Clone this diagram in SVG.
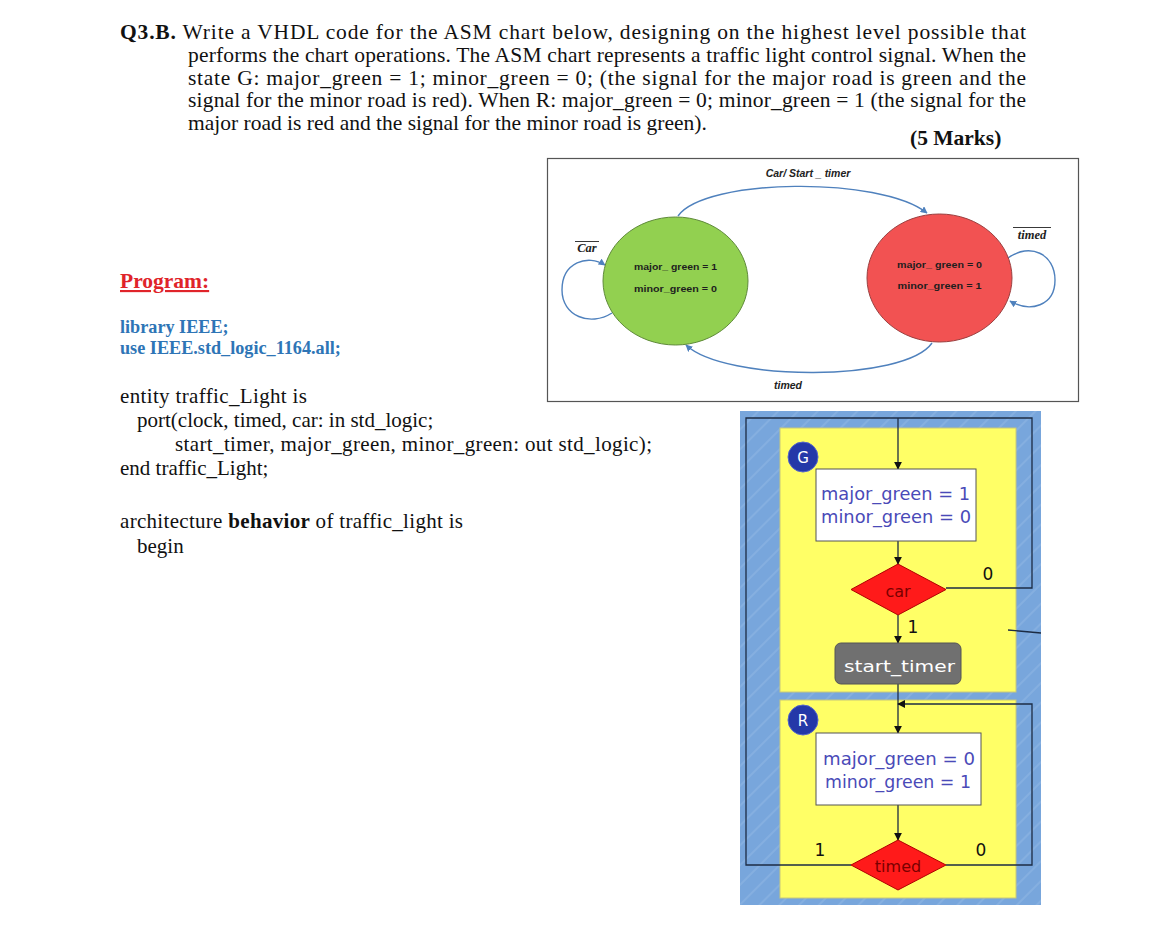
<svg xmlns="http://www.w3.org/2000/svg" width="1170" height="940" viewBox="0 0 1170 940">
<defs>
<style>
.q{font-family:"Liberation Serif",serif;font-size:21.5px;fill:#111}
.code{font-family:"Liberation Serif",serif;font-size:21px;fill:#111}
.lib{font-family:"Liberation Serif",serif;font-size:18.2px;font-weight:bold;fill:#2e75b6}
.st{font-family:"Liberation Sans",Arial,sans-serif;font-size:9.5px;font-weight:bold;fill:#1e1e1e}
.lbl{font-family:"Liberation Sans",Arial,sans-serif;font-size:10.5px;font-weight:bold;font-style:italic;fill:#222}
.mth{font-family:"Liberation Serif",serif;font-size:12.5px;font-weight:bold;font-style:italic;fill:#222}
.asm{font-family:"DejaVu Sans",sans-serif;font-size:18px;fill:#4a4ab8}
.num{font-family:"DejaVu Sans",sans-serif;font-size:17px;fill:#111}
.dtx{font-family:"DejaVu Sans",sans-serif;font-size:16px;fill:#7a0000}
.cl{font-family:"DejaVu Sans",sans-serif;font-size:15px;fill:#fff}
.blue{fill:none;stroke:#4f81bd;stroke-width:1.4}
.wire{fill:none;stroke:#1c2c44;stroke-width:1.3}
</style>
<marker id="ab" viewBox="0 0 10 10" refX="9" refY="5" markerWidth="7" markerHeight="7" orient="auto" markerUnits="userSpaceOnUse"><path d="M0,0 L10,5 L0,10 z" fill="#4f81bd"/></marker>
<marker id="ak" viewBox="0 0 10 10" refX="9" refY="5" markerWidth="8" markerHeight="8" orient="auto" markerUnits="userSpaceOnUse"><path d="M0,0 L10,5 L0,10 z" fill="#111"/></marker>
<pattern id="stripes" width="14" height="14" patternUnits="userSpaceOnUse" patternTransform="rotate(-45)"><rect width="14" height="14" fill="#78a6dc"/><rect width="14" height="2" fill="#85afe0"/></pattern>
</defs>
<rect width="1170" height="940" fill="#ffffff"/>

<!-- Question text -->
<g id="question">
<text class="q" x="120" y="39" textLength="906" lengthAdjust="spacing"><tspan font-weight="bold">Q3.B.</tspan> Write a VHDL code for the ASM chart below, designing on the highest level possible that</text>
<text class="q" x="188" y="62" textLength="838" lengthAdjust="spacing">performs the chart operations. The ASM chart represents a traffic light control signal. When the</text>
<text class="q" x="188" y="85" textLength="838" lengthAdjust="spacing">state G: major_green = 1; minor_green = 0; (the signal for the major road is green and the</text>
<text class="q" x="188" y="107" textLength="838" lengthAdjust="spacing">signal for the minor road is red). When R: major_green = 0; minor_green = 1 (the signal for the</text>
<text class="q" x="188" y="130">major road is red and the signal for the minor road is green).</text>
<text class="q" x="910" y="145" font-weight="bold">(5 Marks)</text>
</g>

<!-- Program text -->
<g id="program">
<text x="120" y="288" font-family="Liberation Serif, serif" font-size="21.5" font-weight="bold" fill="#e0242a" text-decoration="underline">Program:</text>
<text class="lib" x="120" y="333">library IEEE;</text>
<text class="lib" x="120" y="354">use IEEE.std_logic_1164.all;</text>
<text class="code" x="120" y="403" textLength="187" lengthAdjust="spacing">entity traffic_Light is</text>
<text class="code" x="137" y="427">port(clock, timed, car: in std_logic;</text>
<text class="code" x="175" y="451" textLength="477" lengthAdjust="spacing">start_timer, major_green, minor_green: out std_logic);</text>
<text class="code" x="120" y="475">end traffic_Light;</text>
<text class="code" x="120" y="528" textLength="343" lengthAdjust="spacing">architecture <tspan font-weight="bold">behavior</tspan> of traffic_light is</text>
<text class="code" x="137" y="553">begin</text>
</g>

<!-- State diagram -->
<g id="state-frame">
<rect x="547.5" y="158.5" width="531" height="243" fill="#fff" stroke="#555" stroke-width="1.2"/>
</g>
<g id="state-connectors">
<path class="blue" d="M678 216 C705 178, 880 176, 927 213" marker-end="url(#ab)"/>
<path class="blue" d="M932 343 C905 382, 725 382, 686 345" marker-end="url(#ab)"/>
<path class="blue" d="M612 313 C590 327, 562 316, 562 290 C562 262, 588 254, 605 265" marker-end="url(#ab)"/>
<path class="blue" d="M1008 258 C1030 242, 1055 254, 1055 280 C1055 306, 1030 313, 1010 301" marker-end="url(#ab)"/>
<text class="lbl" x="808" y="177" text-anchor="middle">Car/ Start _ timer</text>
<text class="lbl" x="788" y="389" text-anchor="middle">timed</text>
<text class="mth" x="587" y="252" text-anchor="middle">Car</text>
<line x1="575" y1="241.5" x2="599" y2="241.5" stroke="#222" stroke-width="0.9"/>
<text class="mth" x="1032" y="239" text-anchor="middle">timed</text>
<line x1="1013" y1="227.5" x2="1051" y2="227.5" stroke="#222" stroke-width="0.9"/>
</g>
<g id="state-G">
<ellipse cx="675.5" cy="281" rx="72.5" ry="64" fill="#92d050" stroke="#5f8a3a" stroke-width="1"/>
<text class="st" x="675.5" y="270" text-anchor="middle" textLength="83" lengthAdjust="spacingAndGlyphs">major_ green = 1</text>
<text class="st" x="675.5" y="292" text-anchor="middle" textLength="83" lengthAdjust="spacingAndGlyphs">minor_green = 0</text>
</g>
<g id="state-R">
<ellipse cx="939.5" cy="278" rx="72.5" ry="64" fill="#f25252" stroke="#9a4040" stroke-width="1"/>
<text class="st" x="939.5" y="268" text-anchor="middle" textLength="85" lengthAdjust="spacingAndGlyphs">major_ green = 0</text>
<text class="st" x="939.5" y="289" text-anchor="middle" textLength="84" lengthAdjust="spacingAndGlyphs">minor_green = 1</text>
</g>

<!-- ASM chart -->
<g id="asm-background">
<rect x="740" y="411" width="301" height="494" fill="url(#stripes)"/>
<rect x="780" y="428" width="236" height="264" fill="#ffff66" stroke="#c8c87a" stroke-width="1"/>
<rect x="780" y="700" width="236" height="198" fill="#ffff66" stroke="#c8c87a" stroke-width="1"/>
</g>
<g id="asm-connectors">
<path class="wire" d="M946 588 H1032 V418 H898"/>
<path class="wire" d="M851 865 H746 V418 H898"/>
<path class="wire" d="M898 418 V469" marker-end="url(#ak)"/>
<path class="wire" d="M898 541 V564" marker-end="url(#ak)"/>
<path class="wire" d="M898 615 V643" marker-end="url(#ak)"/>
<path class="wire" d="M898 684 V733" marker-end="url(#ak)"/>
<path class="wire" d="M946 865 H1032 V704 H898" marker-end="url(#ak)"/>
<path class="wire" d="M898 805 V840" marker-end="url(#ak)"/>
<path class="wire" d="M1008 630 L1041 633"/>
<text class="num" x="988" y="580" text-anchor="middle">0</text>
<text class="num" x="913" y="633" text-anchor="middle">1</text>
<text class="num" x="820" y="856" text-anchor="middle">1</text>
<text class="num" x="981" y="856" text-anchor="middle">0</text>
</g>
<g id="asm-G-label">
<circle cx="803" cy="457" r="15" fill="#2438a8" stroke="#5566cc" stroke-width="1"/>
<text class="cl" x="803" y="463" text-anchor="middle">G</text>
</g>
<g id="asm-G-box">
<rect x="816" y="469" width="160" height="72" fill="#fff" stroke="#555" stroke-width="1"/>
<text class="asm" x="821" y="500" textLength="149" lengthAdjust="spacingAndGlyphs">major_green = 1</text>
<text class="asm" x="821" y="523" textLength="150" lengthAdjust="spacingAndGlyphs">minor_green = 0</text>
</g>
<g id="asm-car">
<polygon points="898,564 946,589.5 898,615 851,589.5" fill="#ff1a1a" stroke="#b00000" stroke-width="1"/>
<text class="dtx" x="898" y="597" text-anchor="middle">car</text>
</g>
<g id="asm-start-timer">
<rect x="835" y="643" width="126" height="41" rx="6" fill="#707070" stroke="#555" stroke-width="1"/>
<text class="cl" x="844" y="672" font-size="17" fill="#eeeeee" textLength="111" lengthAdjust="spacingAndGlyphs">start_timer</text>
</g>
<g id="asm-R-label">
<circle cx="803" cy="720" r="15" fill="#2438a8" stroke="#5566cc" stroke-width="1"/>
<text class="cl" x="803" y="726" text-anchor="middle">R</text>
</g>
<g id="asm-R-box">
<rect x="816" y="733" width="165" height="72" fill="#fff" stroke="#555" stroke-width="1"/>
<text class="asm" x="823" y="765" textLength="152" lengthAdjust="spacingAndGlyphs">major_green = 0</text>
<text class="asm" x="825" y="788" textLength="146" lengthAdjust="spacingAndGlyphs">minor_green = 1</text>
</g>
<g id="asm-timed">
<polygon points="898,840 946,865 898,890 851,865" fill="#ff1a1a" stroke="#b00000" stroke-width="1"/>
<text class="dtx" x="898" y="872" text-anchor="middle">timed</text>
</g>
</svg>
